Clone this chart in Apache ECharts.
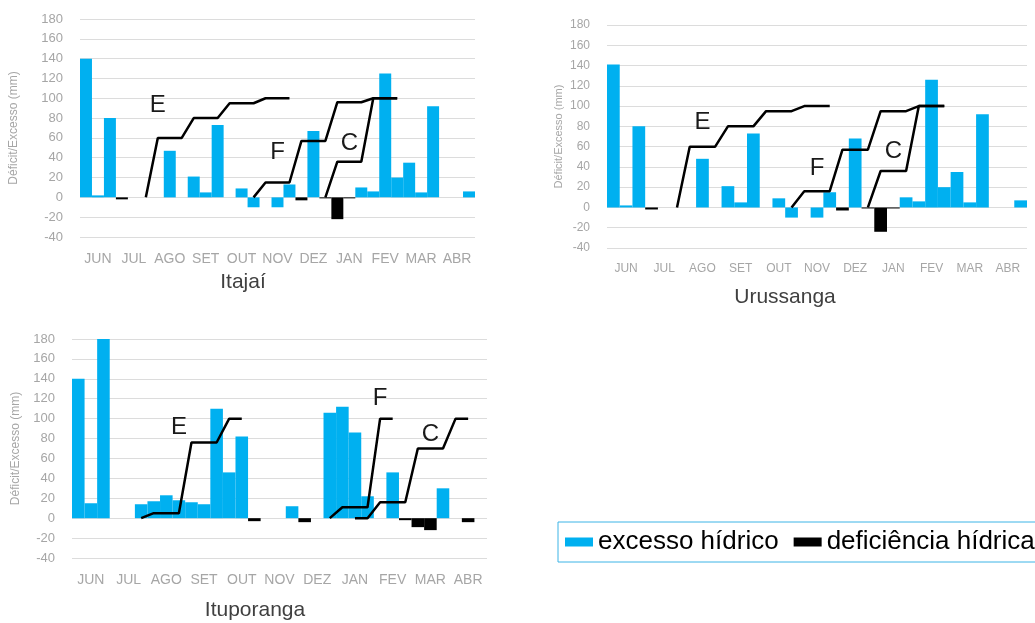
<!DOCTYPE html>
<html>
<head>
<meta charset="utf-8">
<script src="https://cdn.jsdelivr.net/npm/echarts@6/dist/echarts.min.js"></script>
<style>
  html, body { margin: 0; padding: 0; background: #fff; }
  #chart { width: 1035px; height: 623px; }
</style>
</head>
<body>
<div id="chart"></div>
<script>
// meses, cada um com 3 decêndios
var months = ['JUN', 'JUL', 'AGO', 'SET', 'OUT', 'NOV', 'DEZ', 'JAN', 'FEV', 'MAR', 'ABR'];
var decendios = [];
months.forEach(function (m) {
  for (var d = 1; d <= 3; d++) decendios.push(m + ' ' + d);
});
var yMin = -40, yMax = 180, yStep = 20;

// Itajaí
var itajaiExcesso = [140, 2, 80, null, null, null, null, 47, null, 21, 5, 73, null, 9, -10, null, -10, 13, null, 67, null, null, null, 10, 6, 125, 20, 35, 5, 92, null, null, 6];
var itajaiDeficit = [null, null, null, -2, null, null, null, null, null, null, null, null, null, null, null, null, null, null, -3, null, -1, -22, -1, null, null, null, null, null, null, null, null, null, null];
var itajaiE = [null, null, null, null, null, 0, 60, 60, 60, 80, 80, 80, 95, 95, 95, 100, 100, 100, null, null, null, null, null, null, null, null, null, null, null, null, null, null, null];
var itajaiF = [null, null, null, null, null, null, null, null, null, null, null, null, null, null, 0, 15, 15, 15, 57, 57, 57, 96, 96, 96, 100, 100, 100, null, null, null, null, null, null];
var itajaiC = [null, null, null, null, null, null, null, null, null, null, null, null, null, null, null, null, null, null, null, null, 0, 36, 36, 36, 100, 100, 100, null, null, null, null, null, null];
var itajaiLetters = [['E', 6, 93], ['F', 16, 45], ['C', 22, 54]];

// Urussanga
var urussangaExcesso = [141, 2, 80, null, null, null, null, 48, null, 21, 5, 73, null, 9, -10, null, -10, 15, null, 68, null, null, null, 10, 6, 126, 20, 35, 5, 92, null, null, 7];
var urussangaDeficit = [null, null, null, -2, null, null, null, null, null, null, null, null, null, null, null, null, null, null, -3, null, -1, -24, -1, null, null, null, null, null, null, null, null, null, null];
var urussangaE = [null, null, null, null, null, 0, 60, 60, 60, 80, 80, 80, 95, 95, 95, 100, 100, 100, null, null, null, null, null, null, null, null, null, null, null, null, null, null, null];
var urussangaF = [null, null, null, null, null, null, null, null, null, null, null, null, null, null, 0, 16, 16, 16, 57, 57, 57, 95, 95, 95, 100, 100, 100, null, null, null, null, null, null];
var urussangaC = [null, null, null, null, null, null, null, null, null, null, null, null, null, null, null, null, null, null, null, null, 0, 36, 36, 36, 100, 100, 100, null, null, null, null, null, null];
var urussangaLetters = [['E', 7, 84], ['F', 16, 39], ['C', 22, 55]];

// Ituporanga
var ituporangaExcesso = [140, 15, 180, null, null, 14, 17, 23, 18, 16, 14, 110, 46, 82, null, null, null, 12, null, null, 106, 112, 86, 22, null, 46, null, null, null, 30, null, null, null];
var ituporangaDeficit = [null, null, null, null, null, null, null, null, null, null, null, null, null, null, -3, null, null, null, -4, null, null, null, null, null, null, null, -2, -9, -12, null, null, -4, null];
var ituporangaE = [null, null, null, null, null, 0, 5, 5, 5, 76, 76, 76, 100, 100, null, null, null, null, null, null, null, null, null, null, null, null, null, null, null, null, null, null, null];
var ituporangaF = [null, null, null, null, null, null, null, null, null, null, null, null, null, null, null, null, null, null, null, null, 0, 11, 11, 11, 100, 100, null, null, null, null, null, null, null];
var ituporangaC = [null, null, null, null, null, null, null, null, null, null, null, null, null, null, null, null, null, null, null, null, null, null, 0, 0, 16, 16, 16, 70, 70, 70, 100, 100, null];
var ituporangaLetters = [['E', 8, 91], ['F', 24, 120], ['C', 28, 84]];

var BLUE = '#00b0f0';
var FONT = 'Liberation Sans';

var panels = [
  { title: 'Itajaí', excesso: itajaiExcesso, deficit: itajaiDeficit, E: itajaiE, F: itajaiF, C: itajaiC, letters: itajaiLetters,
    grid: { left: 80, top: 19, width: 395, height: 218 }, nameGap: 60, nameSize: 12, labelSize: 14, yLabelSize: 13, titlePos: [243, 282] },
  { title: 'Urussanga', excesso: urussangaExcesso, deficit: urussangaDeficit, E: urussangaE, F: urussangaF, C: urussangaC, letters: urussangaLetters,
    grid: { left: 607, top: 25, width: 420, height: 223 }, nameGap: 43, nameSize: 11, labelSize: 12, yLabelSize: 12, titlePos: [785, 297] },
  { title: 'Ituporanga', excesso: ituporangaExcesso, deficit: ituporangaDeficit, E: ituporangaE, F: ituporangaF, C: ituporangaC, letters: ituporangaLetters,
    grid: { left: 72, top: 339, width: 415, height: 219 }, nameGap: 50, nameSize: 12, labelSize: 14, yLabelSize: 13, titlePos: [255, 610] }
];

var grids = [], xAxes = [], yAxes = [], series = [], graphics = [];

panels.forEach(function (p, i) {
  grids.push(p.grid);
  xAxes.push({
    type: 'category',
    gridIndex: i,
    data: decendios,
    axisLine: { show: false },
    axisTick: { show: false },
    axisLabel: {
      interval: function (idx) { return idx % 3 === 1; },
      formatter: function (v) { return v.split(' ')[0]; },
      color: '#a6a6a6',
      fontSize: p.labelSize,
      fontFamily: FONT,
      margin: 15
    }
  });
  yAxes.push({
    type: 'value',
    gridIndex: i,
    min: yMin,
    max: yMax,
    interval: yStep,
    name: 'Déficit/Excesso (mm)',
    nameLocation: 'middle',
    nameGap: p.nameGap,
    nameTextStyle: { color: '#a6a6a6', fontSize: p.nameSize, fontFamily: FONT },
    axisLine: { show: false },
    axisTick: { show: false },
    axisLabel: { color: '#a6a6a6', fontSize: p.yLabelSize, fontFamily: FONT, margin: 17 },
    splitLine: { lineStyle: { color: '#dcdcdc', width: 1 } }
  });
  series.push({
    name: 'excesso hídrico',
    type: 'bar',
    xAxisIndex: i,
    yAxisIndex: i,
    data: p.excesso,
    barGap: '-100%',
    barCategoryGap: '0%',
    itemStyle: { color: BLUE },
    silent: true
  });
  series.push({
    name: 'deficiência hídrica',
    type: 'bar',
    xAxisIndex: i,
    yAxisIndex: i,
    data: p.deficit,
    barGap: '-100%',
    barCategoryGap: '0%',
    itemStyle: { color: '#000' },
    silent: true
  });
  ['E', 'F', 'C'].forEach(function (key) {
    var marks = p.letters.filter(function (l) { return l[0] === key; }).map(function (l) {
      return { coord: [l[1], l[2]], value: l[0] };
    });
    series.push({
      name: key,
      type: 'line',
      xAxisIndex: i,
      yAxisIndex: i,
      data: p[key],
      symbol: 'none',
      silent: true,
      z: 5,
      lineStyle: { color: '#000', width: 2.5 },
      markPoint: {
        symbol: 'circle',
        symbolSize: 0,
        silent: true,
        label: { show: true, position: 'inside', formatter: '{c}', fontSize: 24, color: '#1a1a1a', fontFamily: FONT },
        data: marks
      }
    });
  });
  graphics.push({
    type: 'text',
    x: p.titlePos[0],
    y: p.titlePos[1],
    style: { text: p.title, font: '21px "' + FONT + '"', fill: '#404040', align: 'center', verticalAlign: 'middle' }
  });
});

var chart = echarts.init(document.getElementById('chart'));
chart.setOption({
  animation: false,
  backgroundColor: '#fff',
  grid: grids,
  xAxis: xAxes,
  yAxis: yAxes,
  series: series,
  graphic: graphics,
  legend: {
    data: ['excesso hídrico', 'deficiência hídrica'],
    left: 558,
    top: 522,
    width: 600,
    padding: [7, 7],
    itemWidth: 28,
    itemHeight: 9,
    itemGap: 15,
    icon: 'rect',
    borderColor: '#3cb4e6',
    borderWidth: 1,
    selectedMode: false,
    textStyle: { fontSize: 26, color: '#000', fontFamily: FONT }
  }
});
</script>
</body>
</html>
